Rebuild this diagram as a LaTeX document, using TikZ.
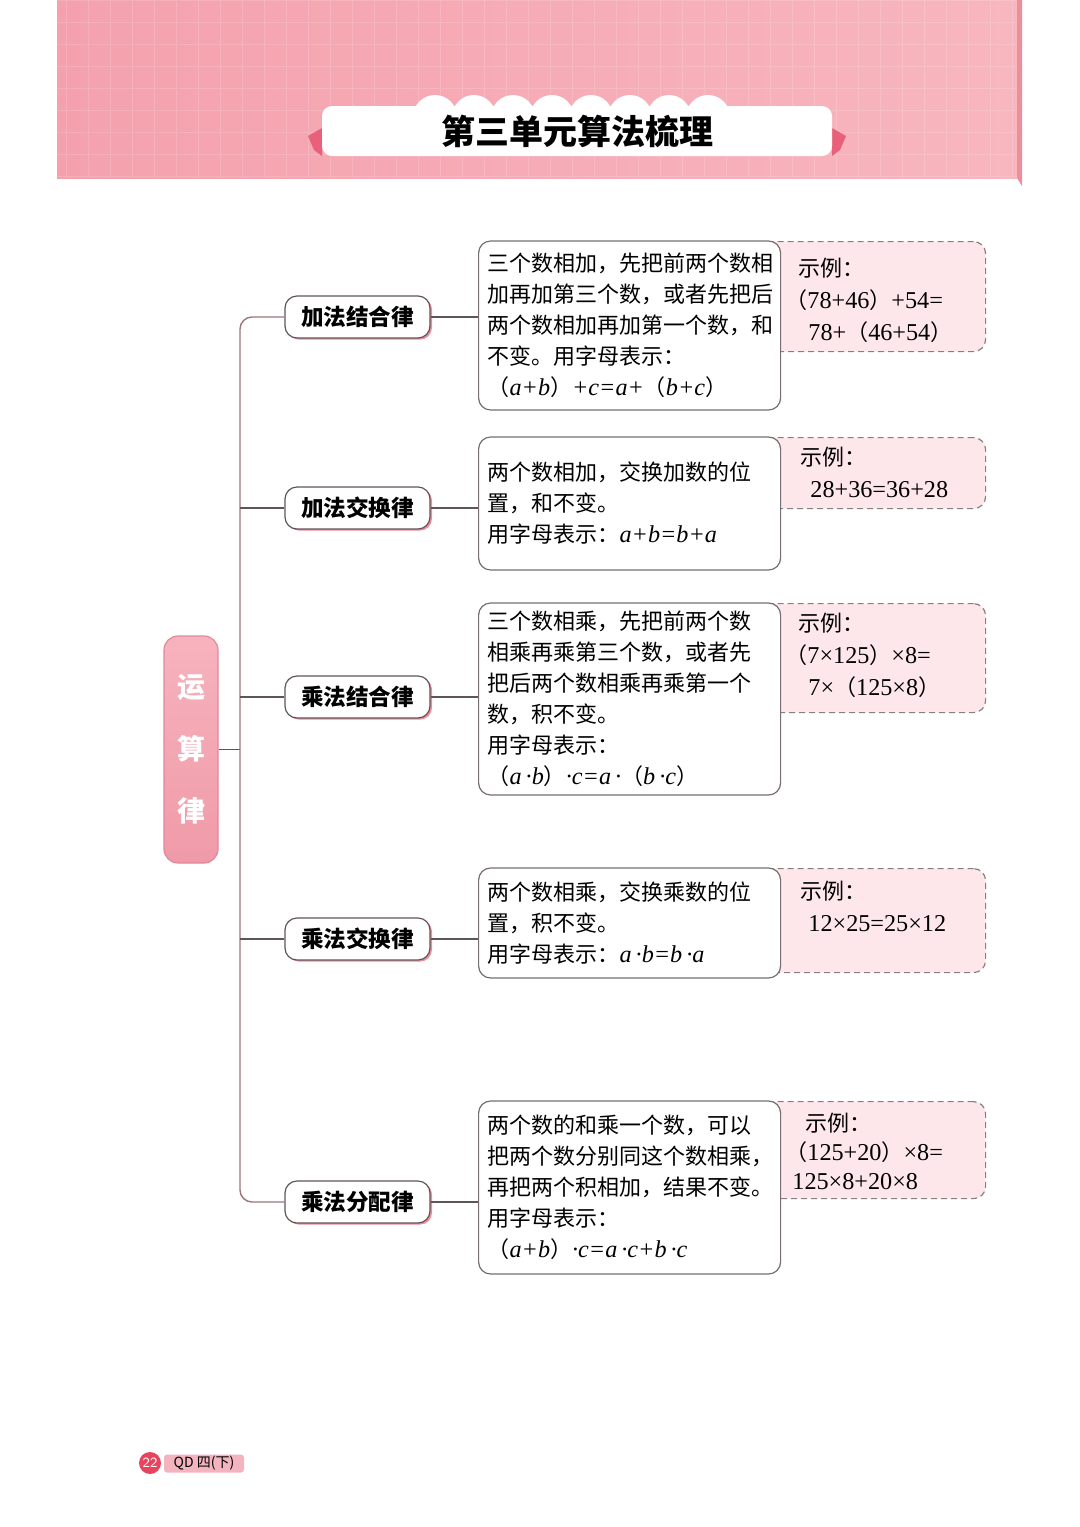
\documentclass[tikz,border=0pt]{standalone}
\usepackage{fontspec}
\setmainfont{Liberation Serif}[Scale=1.1]
\newfontfamily\cjk{Noto Sans CJK SC}
\usetikzlibrary{positioning}
\definecolor{hdr}{HTML}{F4A1AD}
\definecolor{hdrlt}{HTML}{F8B6BF}
\definecolor{hdrdk}{HTML}{EE8E9D}
\definecolor{tab}{HTML}{E9607A}
\definecolor{rootc}{HTML}{F09AA8}
\definecolor{rootlt}{HTML}{F6B3BE}
\definecolor{rootd}{HTML}{E3879A}
\definecolor{brsh}{HTML}{F08B9C}
\definecolor{exfill}{HTML}{FDE7EB}
\definecolor{linec}{HTML}{5E5557}
\definecolor{trunkc}{HTML}{9C7479}
\definecolor{foot}{HTML}{E6445F}
\definecolor{footlt}{HTML}{F3B3BF}
\newcommand\fm[1]{{\rmfamily\itshape #1}}
\newcommand\nm[1]{{\rmfamily #1}}

\begin{document}
\begin{tikzpicture}[x=0.5pt,y=-0.5pt,
  conn/.style={linec,line width=0.7pt},
  root/.style={draw=rootd,line width=0.6pt,top color=rootlt,bottom color=rootc,rounded corners=7pt,minimum width=27pt,minimum height=113.5pt,inner sep=0pt,text=white,align=center,font=\cjk\bfseries\fontsize{14}{31}\selectfont},
  branch/.style={draw=linec,line width=0.6pt,fill=white,rounded corners=6pt,minimum width=72.5pt,minimum height=21pt,inner sep=0pt,font=\cjk\bfseries\fontsize{11.3}{13}\selectfont,preaction={fill=brsh,transform canvas={xshift=1pt,yshift=-0.8pt}}},
  desc/.style={draw=linec!85,line width=0.6pt,fill=white,rounded corners=6pt,anchor=west,text width=142pt,inner xsep=4.5pt,inner ysep=0pt,align=left,font=\cjk\fontsize{11}{15.5}\selectfont},
  exbox/.style={draw=linec!75,dash pattern=on 3pt off 2pt,line width=0.6pt,fill=exfill,rounded corners=6pt,anchor=north west,minimum width=112.5pt,inner sep=0pt},
  extext/.style={anchor=west,inner sep=0pt,align=left,font=\cjk\fontsize{11}{16}\selectfont}]
\useasboundingbox (0,0) rectangle (1080,1527);
\shade[left color=hdr,right color=hdrlt] (57,0) rectangle (1017,178);
\draw[white,opacity=.15,line width=0.4pt,step=11pt] (57,0) grid (1017,178);
\fill[hdrdk] (1017,0) -- (1022,0) -- (1022,186) -- (1017,178) -- cycle;
\fill[tab] (322,128) -- (308,136) -- (314,150) -- (322,156) -- cycle;
\fill[tab] (832,128) -- (846,136) -- (840,150) -- (832,156) -- cycle;
\foreach \x in {435,474,...,708}\fill[white] (\x,117) circle (11pt);
\node[fill=white,rounded corners=5pt,minimum width=255pt,minimum height=25pt,inner sep=0pt,font=\cjk\bfseries\fontsize{17}{20}\selectfont] (title) at (577,131) {第三单元算法梳理};

\node[root] (root) at (191,749.5) {运\\算\\律};
\coordinate (trunk) at (240,749.5);
\node[branch] (b1) at (357.5,317) {加法结合律};
\node[branch] (b2) at (357.5,508) {加法交换律};
\node[branch] (b3) at (357.5,697) {乘法结合律};
\node[branch] (b4) at (357.5,939) {乘法交换律};
\node[branch] (b5) at (357.5,1202) {乘法分配律};

\node[exbox,minimum height=55pt] (e1) at (760,241) {};
\node[exbox,minimum height=35.5pt] (e2) at (760,437) {};
\node[exbox,minimum height=54.5pt] (e3) at (760,603) {};
\node[exbox,minimum height=52pt] (e4) at (760,868) {};
\node[exbox,minimum height=48.5pt] (e5) at (760,1101) {};

\node[desc,minimum height=84.5pt] (d1) at (478,325.5) {三个数相加，先把前两个数相\\加再加第三个数，或者先把后\\两个数相加再加第一个数，和\\不变。用字母表示：\\（\fm{a+b}）\fm{+c=a+}（\fm{b+c}）};
\node[desc,minimum height=66.5pt] (d2) at (478,503.5) {两个数相加，交换加数的位\\置，和不变。\\用字母表示：\fm{a+b=b+a}};
\node[desc,minimum height=96pt] (d3) at (478,699) {三个数相乘，先把前两个数\\相乘再乘第三个数，或者先\\把后两个数相乘再乘第一个\\数，积不变。\\用字母表示：\\（\fm{a\,·b}）\fm{·c=a\,·}（\fm{b\,·c}）};
\node[desc,minimum height=55pt] (d4) at (478,923) {两个数相乘，交换乘数的位\\置，积不变。\\用字母表示：\fm{a\,·b=b\,·a}};
\node[desc,minimum height=86.5pt] (d5) at (478,1187.5) {两个数的和乘一个数，可以\\把两个数分别同这个数相乘，\\再把两个积相加，结果不变。\\用字母表示：\\（\fm{a+b}）\fm{·c=a\,·c+b\,·c}};

\node[extext] (t1) at (785,300) {\hspace*{6.5pt}示例：\\（\nm{78+46}）\nm{+54=}\\\hspace*{11.5pt}\nm{78+}（\nm{46+54}）};
\node[extext] (t2) at (785,472) {\hspace*{7.5pt}示例：\\\hspace*{12.5pt}\nm{28+36=36+28}};
\node[extext] (t3) at (785,655) {\hspace*{6.5pt}示例：\\（\nm{7×125}）\nm{×8=}\\\hspace*{11.5pt}\nm{7×}（\nm{125×8}）};
\node[extext] (t4) at (785,906.5) {\hspace*{7.5pt}示例：\\\hspace*{11.5pt}\nm{12×25=25×12}};
\node[extext,font=\cjk\fontsize{11}{14.5}\selectfont] (t5) at (785,1151) {\hspace*{10pt}示例：\\（\nm{125+20}）\nm{×8=}\\\hspace*{3.5pt}\nm{125×8+20×8}};

\draw[conn] (root) -- (trunk);
\draw[conn,trunkc,rounded corners=6pt] (b1.west) -| (trunk) |- (b5.west);
\foreach \i in {2,3,4}\draw[conn] (b\i.west) -- (b\i.west -| trunk);
\foreach \i in {1,...,5}\draw[conn] (b\i.east) -- (b\i.east -| d\i.west);

\node[fill=footlt,rounded corners=1.5pt,minimum width=40pt,minimum height=9pt,inner sep=0pt,font=\cjk\fontsize{7}{8}\selectfont] (ed) at (204,1463.5) {QD 四(下)};
\node[circle,fill=foot,minimum size=11pt,inner sep=0pt,text=white,font=\sffamily\fontsize{7}{8}\selectfont] (pg) at (150,1463) {22};
\end{tikzpicture}
\end{document}
